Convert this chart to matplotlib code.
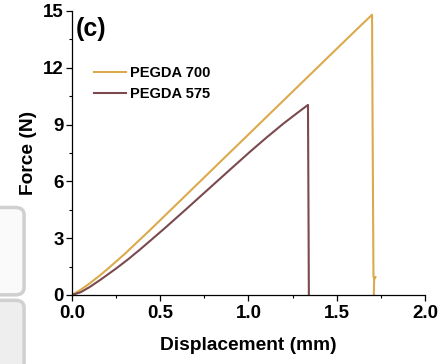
import matplotlib.pyplot as plt
from matplotlib.patches import FancyBboxPatch
from matplotlib.ticker import MultipleLocator, FuncFormatter

plt.rcParams['font.family'] = ['Liberation Sans', 'DejaVu Sans']
plt.rcParams['font.weight'] = 'bold'

# --- data ---
labels = ["PEGDA 700", "PEGDA 575"]
colors = ["#DCAA4C", "#7A4A50"]

x_700 = [0.0, 0.05, 0.10, 0.16, 0.20, 0.30, 0.442, 0.60, 0.80, 1.0, 1.2, 1.4, 1.6, 1.70,
         1.703, 1.708, 1.712, 1.719, 1.712, 1.71]
y_700 = [0.0, 0.28, 0.61, 1.05, 1.36, 2.18, 3.43, 4.86, 6.67, 8.48, 10.29, 12.10, 13.91, 14.80,
         9.2, 1.0, 0.85, 0.95, 0.85, 0.0]

x_575 = [0.0, 0.05, 0.10, 0.159, 0.25, 0.32, 0.385, 0.45, 0.527, 0.65, 0.80, 0.90, 1.008,
         1.10, 1.20, 1.28, 1.337, 1.340, 1.342]
y_575 = [0.0, 0.15, 0.42, 0.79, 1.40, 1.90, 2.40, 2.92, 3.54, 4.56, 5.82, 6.66, 7.56,
         8.30, 9.07, 9.64, 10.04, 4.3, 0.0]

series = [(x_700, y_700), (x_575, y_575)]

fig = plt.figure(figsize=(4.38, 3.64), dpi=100)

# grey UI boxes cut into the left edge of the screenshot
fig.patches.append(FancyBboxPatch((-0.05, 0.19), 0.105, 0.24, boxstyle="round,pad=0,rounding_size=0.02",
                                  transform=fig.transFigure, facecolor="#fafafa",
                                  edgecolor="#d0d0d0", linewidth=2.5, zorder=0))
fig.patches.append(FancyBboxPatch((-0.05, -0.05), 0.105, 0.225, boxstyle="round,pad=0,rounding_size=0.02",
                                  transform=fig.transFigure, facecolor="#eeeeee",
                                  edgecolor="#d0d0d0", linewidth=2.5, zorder=0))

ax = fig.add_axes([0.1644, 0.1896, 0.8059, 0.7802])
ax.patch.set_alpha(0)

for (xs, ys), lab, c in zip(series, labels, colors):
    ax.plot(xs, ys, color=c, lw=1.5, label=lab)

ax.set_xlim(0, 2.0)
ax.set_ylim(0, 15)
ax.xaxis.set_major_locator(MultipleLocator(0.5))
ax.xaxis.set_minor_locator(MultipleLocator(0.25))
ax.yaxis.set_major_locator(MultipleLocator(3))
ax.yaxis.set_minor_locator(MultipleLocator(1.5))
ax.xaxis.set_major_formatter(FuncFormatter(lambda v, p: f"{v:.1f}"))
ax.yaxis.set_major_formatter(FuncFormatter(lambda v, p: f"{v:.0f}"))

for s in ["top", "right"]:
    ax.spines[s].set_visible(False)
for s in ["left", "bottom"]:
    ax.spines[s].set_linewidth(0.9)
ax.tick_params(which="major", direction="out", length=4, width=0.9, labelsize=13.5, pad=2)
ax.tick_params(axis="x", which="major", pad=3)
ax.tick_params(which="minor", direction="out", length=2.5, width=0.8)

ax.set_xlabel("Displacement (mm)", fontsize=13.8, fontweight="bold", labelpad=11)
ax.set_ylabel("Force (N)", fontsize=13.8, fontweight="bold", labelpad=4)

ax.text(0.01, 0.978, "(c)", transform=ax.transAxes, fontsize=18, fontweight="bold",
        va="top", ha="left")

leg = ax.legend(loc="upper left", bbox_to_anchor=(0.045, 0.826), frameon=False,
                prop={"size": 10.5, "weight": "bold"}, handlelength=2.2,
                handletextpad=0.3, labelspacing=0.45, borderaxespad=0)

fig.savefig("out.png", dpi=100)
